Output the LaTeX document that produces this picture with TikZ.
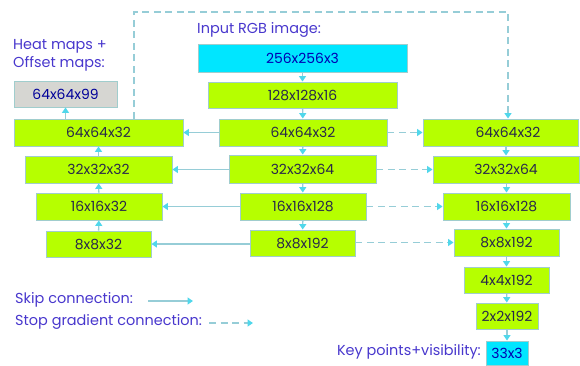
\documentclass[tikz,border=0pt]{standalone}
\usepackage{fontspec}
\setmainfont{Poppins}
\usetikzlibrary{arrows.meta}
\definecolor{lime}{RGB}{182,255,0}
\definecolor{cyanbox}{RGB}{0,230,255}
\definecolor{graybox}{RGB}{214,214,210}
\definecolor{boxborder}{RGB}{160,205,205}
\definecolor{boxtext}{RGB}{40,40,75}
\definecolor{labeltext}{RGB}{72,55,205}
\definecolor{linecol}{RGB}{150,205,215}
\definecolor{tipcol}{RGB}{80,215,235}
\tikzset{
  box/.style={draw=boxborder, line width=0.9bp, fill=lime, text=boxtext, inner sep=0pt,
    font=\fontsize{14}{16}\selectfont},
  lbl/.style={text=labeltext, inner sep=0pt, font=\fontsize{14.5}{18}\selectfont},
  conn/.style={draw=linecol, line width=1.4bp, -{Triangle[width=7bp,length=5.5bp,color=tipcol]}},
  skipc/.style={conn},
  stopc/.style={conn, dash pattern=on 7bp off 4.5bp},
}
\begin{document}
\begin{tikzpicture}[x=1bp, y=-1bp]
\useasboundingbox (0,0) rectangle (580,365);
% middle column
\node[box, fill=cyanbox, text=blue!70!black, minimum width=209bp, minimum height=28bp] (in) at (302.5,58) {256x256x3};
\node[box, minimum width=189bp, minimum height=26bp] (m1) at (302.5,95) {128x128x16};
\node[box, minimum width=168bp, minimum height=27bp] (m2) at (303,132.5) {64x64x32};
\node[box, minimum width=147bp, minimum height=28bp] (m3) at (302.5,169) {32x32x64};
\node[box, minimum width=126bp, minimum height=27bp] (m4) at (303,206.5) {16x16x128};
\node[box, minimum width=105bp, minimum height=26bp] (m5) at (302.5,243) {8x8x192};
% left column
\node[box, fill=graybox, text=blue!60!black, minimum width=103bp, minimum height=26bp] (hm) at (65.5,94) {64x64x99};
\node[box, minimum width=169bp, minimum height=27bp] (l1) at (98.5,132.5) {64x64x32};
\node[box, minimum width=147bp, minimum height=27bp] (l2) at (98.5,169.5) {32x32x32};
\node[box, minimum width=126bp, minimum height=27bp] (l3) at (99,206.5) {16x16x32};
\node[box, minimum width=105bp, minimum height=26bp] (l4) at (98.5,244) {8x8x32};
% right column
\node[box, minimum width=155bp, minimum height=27bp] (r1) at (500.5,132.5) {\hspace*{15bp}64x64x32};
\node[box, minimum width=146bp, minimum height=27bp] (r2) at (506,169.5) {32x32x64};
\node[box, minimum width=127bp, minimum height=27bp] (r3) at (506.5,206.5) {16x16x128};
\node[box, minimum width=105bp, minimum height=27bp] (r4) at (506.5,242.5) {8x8x192};
\node[box, minimum width=85bp, minimum height=26bp] (r5) at (506.5,280) {4x4x192};
\node[box, minimum width=62bp, minimum height=26bp] (r6) at (507,316) {2x2x192};
\node[box, fill=cyanbox, text=blue!70!black, minimum width=42bp, minimum height=24bp] (out) at (507,353) {33x3};
% labels
\node[lbl, anchor=west] (inlbl) at (197,30) {Input RGB image:};
\node[lbl, anchor=north west, align=left] (hmlbl) at (13,39) {Heat maps +\\Offset maps:};
\node[lbl, anchor=west] (skiplbl) at (15,300) {Skip connection:};
\node[lbl, anchor=west] (stoplbl) at (15,322) {Stop gradient connection:};
\node[lbl, anchor=east] (kplbl) at (481,352) {Key points+visibility:};
% vertical arrows middle
\draw[conn] (in) -- (m1);
\draw[conn] (m1) -- (m2);
\draw[conn] (m2) -- (m3);
\draw[conn] (m3) -- (m4);
\draw[conn] (m4) -- (m5);
% vertical arrows right
\draw[conn] (r1.south -| r2.north) -- (r2.north);
\draw[conn] (r2.south -| r3.north) -- (r3.north);
\draw[conn] (r3) -- (r4);
\draw[conn] (r4) -- (r5);
\draw[conn] (r5) -- (r6);
\draw[conn] (r6) -- (out);
% vertical arrows left (upwards)
\draw[conn] (l4) -- (l3);
\draw[conn] (l3) -- (l2);
\draw[conn] (l2) -- (l1);
\draw[conn] (l1.north -| hm.south) -- (hm.south);
% skip connections
\draw[skipc] (m2.west) -- (l1.east);
\draw[skipc] (m3.west |- l2.east) -- (l2.east);
\draw[skipc] (m4.west) -- (l3.east);
\draw[skipc] (m5.west |- l4.east) -- (l4.east);
% stop gradient connections
\draw[stopc] (m2.east) -- (r1.west);
\draw[stopc] (m3.east |- r2.west) -- (r2.west);
\draw[stopc] (m4.east) -- (r3.west);
\draw[stopc] (m5.east |- r4.west) -- (r4.west);
\coordinate (c1) at (134,12);
\coordinate (c2) at (508,12);
\draw[stopc] (l1.north -| c1) -- (c1) -- (c2) -- (r1.north -| c2);
% legend
\coordinate (sk1) at (148,301);
\coordinate (sk2) at (193,301);
\draw[skipc] (sk1) -- (sk2);
\coordinate (st1) at (209,323);
\coordinate (st2) at (253,323);
\draw[stopc] (st1) -- (st2);
\end{tikzpicture}
\end{document}
